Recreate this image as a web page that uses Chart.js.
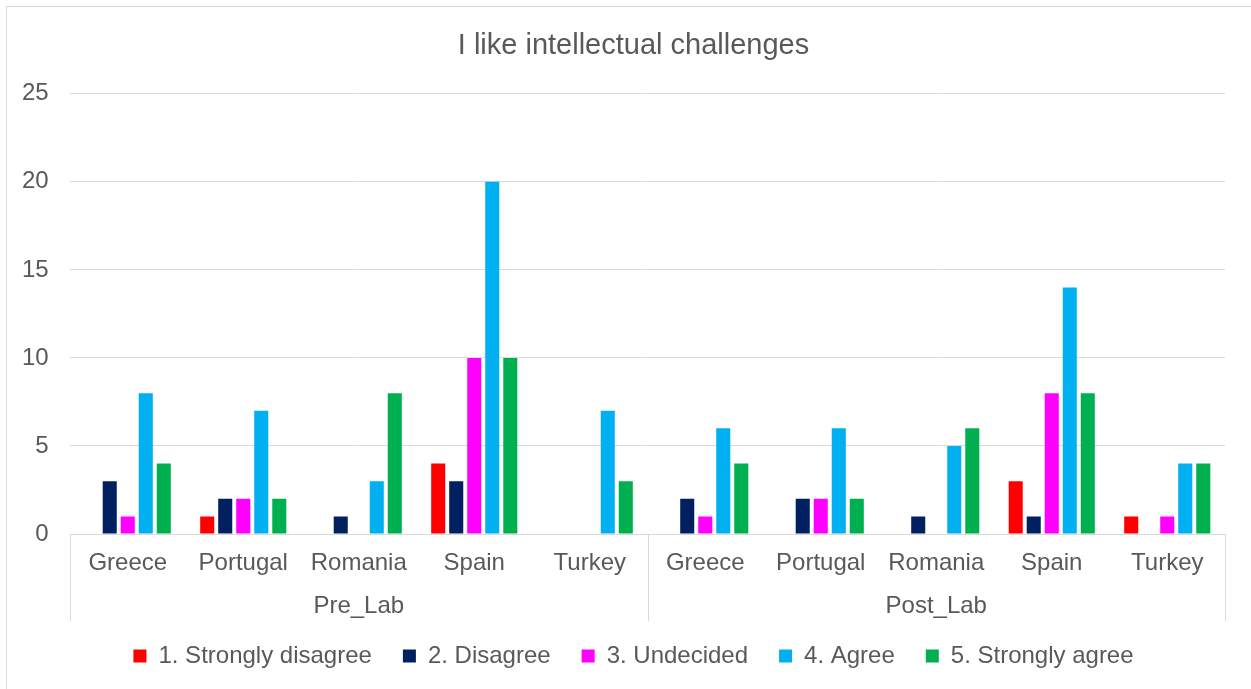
<!DOCTYPE html>
<html>
<head>
<meta charset="utf-8">
<script src="https://cdn.jsdelivr.net/npm/chart.js@4.4.1/dist/chart.umd.min.js"></script>
<style>
  html, body { margin: 0; padding: 0; background: #ffffff; overflow: hidden; width: 1251px; height: 689px; }
  #frame { position: absolute; left: 6px; top: 6px; width: 1300px; height: 800px; border: 1px solid #d9d9d9; box-sizing: border-box; }
  #wrap { position: absolute; left: 0; top: 0; width: 1251px; height: 689px; }
</style>
</head>
<body>
<div id="frame"></div>
<div id="wrap"><canvas id="chart" width="1251" height="689"></canvas></div>
<script>
// ---- Data ----
const chartTitle = 'I like intellectual challenges';
const countries = ['Greece', 'Portugal', 'Romania', 'Spain', 'Turkey', 'Greece', 'Portugal', 'Romania', 'Spain', 'Turkey'];
const groups = ['Pre_Lab', 'Post_Lab'];
const seriesNames = ['1. Strongly disagree', '2. Disagree', '3. Undecided', '4. Agree', '5. Strongly agree'];
const stronglyDisagree = [0, 1, 0, 4, 0, 0, 0, 0, 3, 1];
const disagree         = [3, 2, 1, 3, 0, 2, 2, 1, 1, 0];
const undecided        = [1, 2, 0, 10, 0, 1, 2, 0, 8, 1];
const agree            = [8, 7, 3, 20, 7, 6, 6, 5, 14, 4];
const stronglyAgree    = [4, 2, 8, 10, 3, 4, 2, 6, 8, 4];
const yMin = 0, yMax = 25, yStep = 5;

// ---- Styles ----
const seriesColors = ['#FF0000', '#002060', '#FF00FF', '#00B0F0', '#00B050'];
const textColor = '#595959';
const lineColor = '#d9d9d9';
const fontFamily = '"Liberation Sans", Arial, sans-serif';

const seriesValues = [stronglyDisagree, disagree, undecided, agree, stronglyAgree];
const datasets = seriesNames.map((name, i) => ({
  label: name,
  data: seriesValues[i],
  backgroundColor: seriesColors[i],
  borderWidth: 0,
  categoryPercentage: 0.78,
  barPercentage: 0.78
}));

// Vertical separator lines of the two-level category axis (edges + between groups)
const groupSeparators = {
  id: 'groupSeparators',
  afterDraw(chart) {
    const xs = chart.scales.x, x2 = chart.scales.x2, ctx = chart.ctx;
    const perGroup = xs.ticks.length / x2.ticks.length;
    const positions = [xs.left, xs.right];
    for (let g = 1; g < x2.ticks.length; g++) {
      const i = g * perGroup;
      positions.push((xs.getPixelForTick(i - 1) + xs.getPixelForTick(i)) / 2);
    }
    ctx.save();
    ctx.strokeStyle = lineColor;
    ctx.lineWidth = 1;
    positions.forEach(px => {
      const p = Math.round(px) + 0.5;
      ctx.beginPath();
      ctx.moveTo(p, xs.top);
      ctx.lineTo(p, x2.bottom + 8);
      ctx.stroke();
    });
    ctx.restore();
  }
};

new Chart(document.getElementById('chart'), {
  type: 'bar',
  data: { labels: countries, datasets: datasets },
  plugins: [groupSeparators],
  options: {
    responsive: false,
    animation: false,
    devicePixelRatio: 1,
    layout: { padding: { left: 42, right: 26, top: 0, bottom: 11 } },
    plugins: {
      title: {
        display: true,
        text: chartTitle,
        color: textColor,
        font: { family: fontFamily, size: 29, weight: 'normal', lineHeight: 1.2 },
        padding: { top: 29, bottom: 30 }
      },
      legend: {
        display: true,
        position: 'bottom',
        labels: {
          boxWidth: 13,
          boxHeight: 13,
          padding: 31,
          color: textColor,
          font: { family: fontFamily, size: 24 }
        }
      },
      tooltip: { enabled: false }
    },
    scales: {
      x: {
        offset: true,
        grid: { display: false },
        border: { display: true, color: lineColor, width: 1 },
        ticks: {
          mirror: true,
          padding: -41,
          autoSkip: false,
          maxRotation: 0,
          color: textColor,
          font: { family: fontFamily, size: 24, lineHeight: 1 }
        },
        afterFit: (s) => { s.height = 41; }
      },
      x2: {
        type: 'category',
        axis: 'x',
        position: 'bottom',
        labels: groups,
        offset: true,
        grid: { display: false },
        border: { display: false },
        ticks: {
          mirror: true,
          padding: -43,
          autoSkip: false,
          maxRotation: 0,
          color: textColor,
          font: { family: fontFamily, size: 24, lineHeight: 1 }
        },
        afterFit: (s) => { s.height = 38; }
      },
      y: {
        min: yMin,
        max: yMax,
        ticks: {
          stepSize: yStep,
          mirror: true,
          crossAlign: 'far',
          padding: -48,
          color: textColor,
          font: { family: fontFamily, size: 24 }
        },
        grid: { color: lineColor, drawTicks: false, lineWidth: 1 },
        border: { display: false },
        afterFit: (s) => { s.width = 28; }
      }
    }
  }
});
</script>
</body>
</html>
